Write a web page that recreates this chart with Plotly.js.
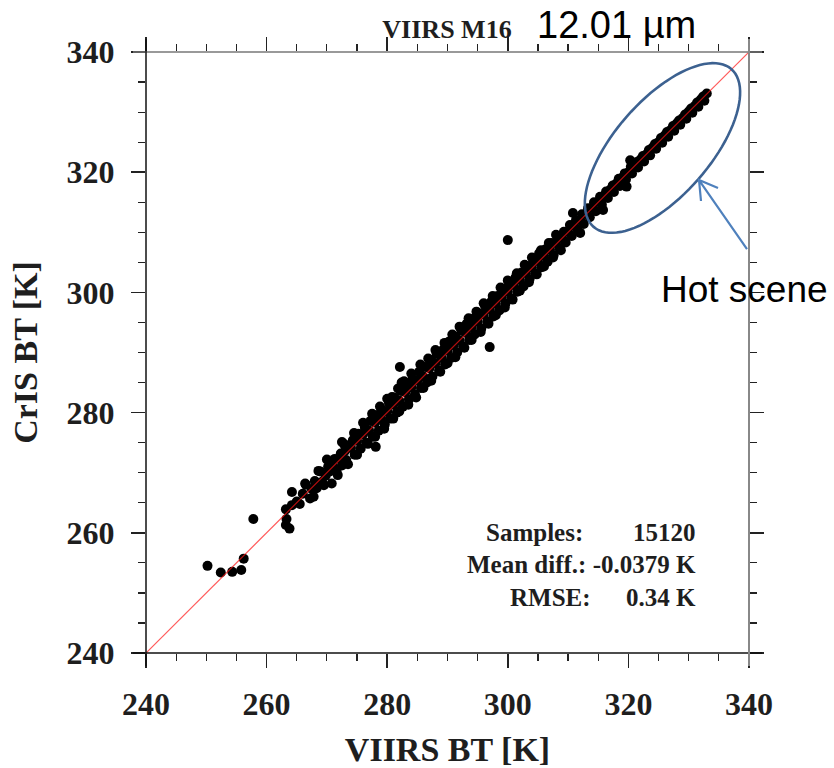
<!DOCTYPE html>
<html>
<head>
<meta charset="utf-8">
<script src="https://cdn.plot.ly/plotly-3.0.1.min.js"></script>
<style>
html,body{margin:0;padding:0;background:#fff;}
#chart{width:834px;height:768px;}
</style>
</head>
<body>
<div id="chart"></div>
<script>
// ---- data ----
const viirsBT = [
  250.2,252.4,254.3,255.8,256.2,257.8,
  263.2,263.8,263.3,263.2,264.2,264.2,265.0,265.5,266.0,266.4,267.2,267.5,268.0,268.3,268.9,269.2,269.8,270.2,270.8,270.5,
  271.0,271.3,271.6, 272.0,272.3,272.5,272.5, 273.0,273.2,273.6, 274.0,274.3,274.6, 275.0,275.2,275.6,
  276.0,276.3,276.5, 277.0,277.2,277.6, 278.0,278.1,278.4,278.6, 279.0,279.3,279.6, 280.0,280.3,280.5,280.8,
  281.0,281.2,281.6, 282.0,282.1,282.3,282.6,282.4, 283.0,283.3,283.6, 284.0,284.2,284.6, 285.0,285.3,285.6,
  286.0,286.3,286.6, 287.0,287.3,287.5, 288.0,288.2,288.6, 289.0,289.3,289.6, 290.0,290.2,290.6,
  291.0,291.3,291.6, 292.0,292.3,292.6, 293.0,293.2,293.6, 294.0,294.3,294.5, 295.0,295.3,295.6,
  296.0,296.2,296.6, 297.0,297.0,297.3,297.6, 298.0,298.3,298.6, 299.0,299.2,299.6, 300.0,300.0,300.3,300.6,
  301.0,301.3,301.6, 302.0,302.3,302.6, 303.0,303.3,303.6, 304.0,304.3,304.6, 305.0,305.2,305.6,
  306.0,306.3,306.6, 307.0,307.3,307.6, 308.0,308.3,308.6, 309.0,309.3,309.6, 310.0,310.3,310.6,310.8,
  311.0,311.3,311.6,312.0, 312.0,312.3,312.6, 313.0,313.3,313.6, 314.0,314.3,314.6, 315.0,315.3,315.6,315.8,
  316.0,316.3,316.6, 317.0,317.4,317.6, 318.0,318.4,318.6, 319.0,319.4,319.6,319.7, 320.0,320.3,320.4,320.6,
  321.0,321.4,321.6, 322.0,322.4,322.6, 323.0,323.4,323.6, 324.0,324.4,324.6, 325.0,325.4,325.6,
  326.0,326.4,326.6, 327.0,327.4,327.6, 328.0,328.4,328.6, 329.0,329.4,329.6, 330.0,330.4,330.6,
  331.0,331.4,331.6, 332.0,332.4,332.6, 333.0
];
const crisBT = [
  254.5,253.4,253.5,253.8,255.7,262.3,
  261.3,260.7,262.3,263.9,264.6,266.8,265.2,264.8,266.5,268.2,265.7,267.3,268.6,267.4,270.2,268.5,269.5,271.0,268.2,270.2,
  271.2,272.3,270.3, 272.4,273.2,271.2,275.1, 273.6,272.1,274.5, 274.1,275.4,273.0, 275.3,276.5,274.0,
  276.4,277.5,275.0, 277.0,278.6,276.0, 278.3,274.3,279.6,277.0, 279.0,280.4,278.0, 280.2,281.6,279.0,282.6,
  281.3,282.5,280.0, 282.0,287.6,283.6,281.0,285.0, 283.4,284.8,282.2, 284.2,285.6,283.0, 285.3,286.8,284.1,
  286.0,287.6,285.0, 287.4,288.7,286.0, 288.2,289.8,287.0, 289.1,290.5,288.0, 290.3,291.8,289.1,
  291.2,292.6,290.0, 292.0,293.6,291.0, 293.3,294.8,292.1, 294.2,295.6,293.0, 295.1,296.5,294.0,
  296.3,297.8,295.1, 297.2,290.9,298.5,296.0, 298.1,299.4,297.0, 299.2,300.6,298.1, 300.1,308.7,301.4,299.0,
  301.2,302.5,300.1, 302.1,303.3,301.0, 303.2,304.4,302.2, 304.1,305.3,303.1, 305.2,306.5,304.2,
  306.1,307.2,305.1, 307.1,308.2,306.2, 308.2,309.2,307.3, 309.1,310.1,308.3, 310.1,311.2,309.4,313.2,
  311.1,312.0,310.4,309.9, 312.1,313.0,311.4, 313.1,314.0,312.5, 314.1,315.0,313.5, 315.1,315.9,314.6,313.7,
  316.1,316.8,315.7, 317.1,317.8,316.7, 318.1,318.9,317.7, 319.1,319.8,318.8,317.6, 320.0,322.0,320.9,319.8,
  321.1,321.7,320.8, 322.1,322.7,321.8, 323.0,323.7,322.8, 324.1,324.7,323.9, 325.0,325.7,324.9,
  326.1,326.7,325.9, 327.0,327.7,326.9, 328.1,328.6,327.9, 329.0,329.6,328.9, 330.1,330.6,329.9,
  331.0,331.6,330.9, 332.1,332.6,331.9, 333.1
];
// outer edge of the dense band (upper / lower scatter)
const edgeViirsBT = [
  266.5,267.8, 268.6,269.5, 270.0,271.8, 272.8,273.5, 274.5,275.0, 276.0,276.8, 277.5,278.0,
  278.8,279.5, 280.0,281.0, 281.8,282.0, 282.8,283.5, 284.0,284.8, 285.5,286.0, 286.8,287.3,
  288.0,288.8, 289.5,290.0, 290.8,291.3, 292.0,292.8, 293.5,294.0, 294.8,295.5, 296.0,296.8,
  297.5,298.0, 298.8,299.5, 300.0,300.8, 301.5,302.0, 302.8,303.5, 304.0,304.8, 305.5,306.0,
  306.8,307.5, 308.0,308.8
];
const edgeCrisBT = [
  268.0,266.0, 270.3,267.9, 272.2,269.6, 274.8,271.4, 276.6,273.0, 278.3,274.8, 279.8,276.0,
  281.0,277.3, 282.3,279.0, 284.0,280.2, 285.2,281.3, 286.5,282.5, 288.0,284.1, 289.0,285.3,
  290.4,286.8, 291.6,288.2, 293.0,289.2, 294.3,290.8, 295.7,292.1, 296.8,293.4, 298.2,294.8,
  299.4,296.2, 300.8,297.5, 302.0,298.8, 303.2,300.3, 304.6,301.7, 305.8,303.0, 307.0,304.3,
  308.2,305.8, 309.6,307.0
];
const oneToOne = [240, 340];
const axisRange = [240, 340];
const tickValues = [240, 260, 280, 300, 320, 340];
const tickLabels = ['240', '260', '280', '300', '320', '340'];
const statLabels = ['Samples:', 'RMSE:'];
const statValues = ['15120', '0.34 K'];
const meanDiffText = 'Mean diff.: -0.0379 K';

// ---- layout geometry (pixels) ----
const W = 834, H = 768;
const L = 146, R = 749, T = 52, B = 653;
const pw = R - L, ph = B - T;
const px2x = p => (p - L) / pw;
const py2y = p => (B - p) / ph;

// ellipse (data units) around the hot scene
const ell = {cx: 325.65, cy: 324.03, a: 17.4, b: 7.9, ang: 49};
function ellipsePath(e) {
  const th = e.ang * Math.PI / 180;
  let d = '';
  const n = 96;
  for (let i = 0; i <= n; i++) {
    const t = 2 * Math.PI * i / n;
    const x = e.cx + e.a * Math.cos(t) * Math.cos(th) - e.b * Math.sin(t) * Math.sin(th);
    const y = e.cy + e.a * Math.cos(t) * Math.sin(th) + e.b * Math.sin(t) * Math.cos(th);
    d += (i === 0 ? 'M' : 'L') + x.toFixed(3) + ',' + y.toFixed(3);
  }
  return d + 'Z';
}
// arrow (pixels)
const arrowTail = [747, 249], arrowTip = [699, 180], arm1 = [718, 188], arm2 = [701, 201];
const P = p => px2x(p[0]).toFixed(4) + ',' + py2y(p[1]).toFixed(4);
const arrowPath = 'M' + P(arrowTail) + 'L' + P(arrowTip) + 'M' + P(arm1) + 'L' + P(arrowTip) + 'L' + P(arm2);

const ext = 13; // axis line overhang in px
const serif = 'Liberation Serif, Times New Roman, serif';
const sans = 'Liberation Sans, Arial, sans-serif';
const txt = '#1e1e1e';

const traces = [
  {
    type: 'scatter', mode: 'markers',
    x: viirsBT.concat(edgeViirsBT), y: crisBT.concat(edgeCrisBT),
    marker: {color: '#000', size: 10, line: {width: 0}},
    hoverinfo: 'x+y', showlegend: false
  },
  {
    type: 'scatter', mode: 'lines', x: oneToOne, y: oneToOne,
    line: {color: 'rgba(255,20,20,0.7)', width: 1.2},
    hoverinfo: 'skip', showlegend: false
  }
];

const axisCommon = {
  range: axisRange, autorange: false, fixedrange: true,
  tickmode: 'array', tickvals: tickValues, ticktext: tickLabels,
  ticks: 'outside', ticklen: 14, tickwidth: 1.5, tickcolor: '#222',
  minor: {dtick: 5, tick0: 240, ticks: 'outside', ticklen: 7, tickwidth: 1.2, tickcolor: '#222', showgrid: false},
  showgrid: false, zeroline: false, showline: false, mirror: 'ticks',
  tickfont: {family: serif, size: 32, color: txt, weight: 'bold'},
  automargin: false
};

const layout = {
  width: W, height: H,
  margin: {l: L, r: W - R, t: T, b: H - B, pad: 0},
  paper_bgcolor: '#fff', plot_bgcolor: '#fff',
  showlegend: false,
  title: {
    text: 'VIIRS M16', x: 447 / W, xanchor: 'center', y: 1 - 29 / H, yanchor: 'middle',
    font: {family: serif, size: 26, color: txt, weight: 'bold'}
  },
  xaxis: Object.assign({}, axisCommon, {
    ticklabelstandoff: 9,
    title: {text: 'VIIRS BT [K]', standoff: 28, font: {family: serif, size: 34, color: txt, weight: 'bold'}}
  }),
  yaxis: Object.assign({}, axisCommon, {
    ticklabelstandoff: 10,
    title: {text: 'CrIS BT [K]', standoff: 18, font: {family: serif, size: 34, color: txt, weight: 'bold'}}
  }),
  shapes: [
    {type: 'line', xref: 'paper', yref: 'paper', x0: px2x(L - ext), x1: px2x(R + ext), y0: 0, y1: 0, line: {color: '#111', width: 1.5}},
    {type: 'line', xref: 'paper', yref: 'paper', x0: px2x(L - ext), x1: px2x(R + ext), y0: 1, y1: 1, line: {color: '#777', width: 1.5}},
    {type: 'line', xref: 'paper', yref: 'paper', x0: 0, x1: 0, y0: py2y(B + ext), y1: py2y(T - ext), line: {color: '#111', width: 1.5}},
    {type: 'line', xref: 'paper', yref: 'paper', x0: 1, x1: 1, y0: py2y(B + ext), y1: py2y(T - ext), line: {color: '#888', width: 2}},
    {type: 'path', xref: 'x', yref: 'y', path: ellipsePath(ell), line: {color: '#3c6190', width: 2.6}, fillcolor: 'rgba(0,0,0,0)'},
    {type: 'path', xref: 'paper', yref: 'paper', path: arrowPath, line: {color: '#4f81bd', width: 2.2}}
  ],
  annotations: [
    {text: '12.01 \u00b5m', xref: 'paper', yref: 'paper', x: px2x(535), y: py2y(25), xanchor: 'left', yanchor: 'middle',
     showarrow: false, font: {family: sans, size: 38, color: '#000'}},
    {text: 'Hot scene', xref: 'paper', yref: 'paper', x: px2x(659), y: py2y(289), xanchor: 'left', yanchor: 'middle',
     showarrow: false, font: {family: sans, size: 37, color: '#000'}},
    {text: statLabels[0], xref: 'paper', yref: 'paper', x: px2x(585), y: py2y(532), xanchor: 'right', yanchor: 'middle',
     showarrow: false, font: {family: serif, size: 25, color: txt, weight: 'bold'}},
    {text: statValues[0], xref: 'paper', yref: 'paper', x: px2x(698), y: py2y(532), xanchor: 'right', yanchor: 'middle',
     showarrow: false, font: {family: serif, size: 25, color: txt, weight: 'bold'}},
    {text: meanDiffText, xref: 'paper', yref: 'paper', x: px2x(698), y: py2y(564), xanchor: 'right', yanchor: 'middle',
     showarrow: false, font: {family: serif, size: 25, color: txt, weight: 'bold'}},
    {text: statLabels[1], xref: 'paper', yref: 'paper', x: px2x(593), y: py2y(597), xanchor: 'right', yanchor: 'middle',
     showarrow: false, font: {family: serif, size: 25, color: txt, weight: 'bold'}},
    {text: statValues[1], xref: 'paper', yref: 'paper', x: px2x(698), y: py2y(597), xanchor: 'right', yanchor: 'middle',
     showarrow: false, font: {family: serif, size: 25, color: txt, weight: 'bold'}}
  ]
};

Plotly.newPlot('chart', traces, layout, {displayModeBar: false, staticPlot: true});
</script>
</body>
</html>
